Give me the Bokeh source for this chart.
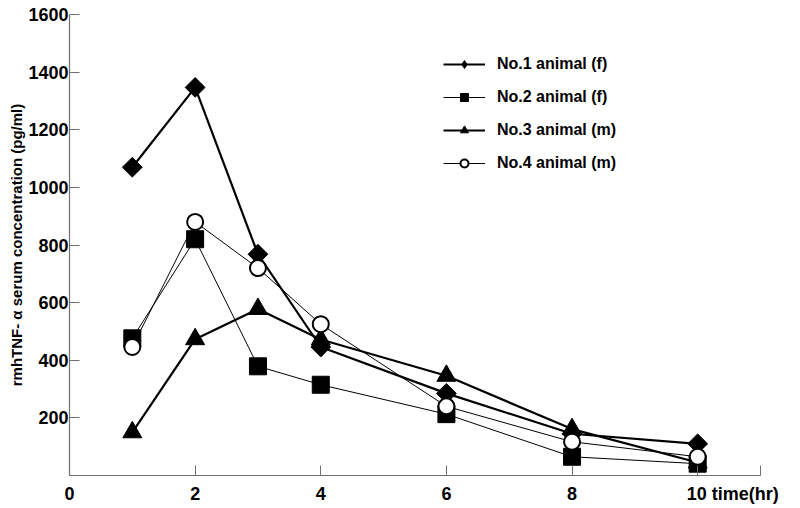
import numpy as np
from bokeh.plotting import figure
from bokeh.models import FixedTicker, Legend, LegendItem, Title
from bokeh.embed import file_html
from bokeh.resources import INLINE

# ---- data ----
time_hr = [1, 2, 3, 4, 6, 8, 10]
animal1_f = [1070, 1347, 768, 446, 285, 145, 110]
animal2_f = [476, 820, 379, 315, 213, 65, 41]
animal3_m = [150, 473, 578, 472, 346, 161, 45]
animal4_m = [446, 880, 720, 525, 240, 117, 65]
series_names = ["No.1 animal (f)", "No.2 animal (f)", "No.3 animal (m)", "No.4 animal (m)"]
x_ticks = [0, 2, 4, 6, 8, 10, 11]
x_tick_labels = ["0", "2", "4", "6", "8", "10", ""]
y_ticks = [200, 400, 600, 800, 1000, 1200, 1400, 1600]
y_title = "rmhTNF- α serum concentration (pg/ml)"
x_title = "time(hr)"

FONT = "Liberation Sans"
NBSP = "\u00a0"

p = figure(width=796, height=506, x_range=(0, 11), y_range=(0, 1600),
           output_backend="svg", toolbar_location=None,
           min_border_left=69, min_border_right=36, min_border_top=14, min_border_bottom=28)
p.outline_line_color = None
p.grid.visible = False
p.background_fill_color = "white"

for ax in (p.xaxis[0], p.yaxis[0]):
    ax.axis_line_color = "#707070"
    ax.axis_line_width = 1.2
    ax.major_tick_line_color = "#707070"
    ax.major_tick_in = 10
    ax.major_tick_out = 0
    ax.minor_tick_line_color = None
    ax.major_label_text_font = FONT
    ax.major_label_text_font_style = "bold"
    ax.major_label_text_font_size = "18px"
    ax.major_label_text_color = "black"

# the "time(hr)" caption sits right after the last labelled tick, as in the reference
overrides = {t: l for t, l in zip(x_ticks, x_tick_labels)}
overrides[10] = NBSP * 14 + "10 " + x_title
p.xaxis.ticker = FixedTicker(ticks=x_ticks)
p.xaxis.major_label_overrides = overrides
p.xaxis.major_label_standoff = 8
p.yaxis.ticker = FixedTicker(ticks=y_ticks)
p.yaxis.major_label_standoff = 1

data = [animal1_f, animal2_f, animal3_m, animal4_m]
line_w = [2.2, 1.0, 2.2, 1.0]
order = [2, 0, 1, 3]
lines = {}
for i in order:
    lines[i] = p.line(time_hr, data[i], line_color="black", line_width=line_w[i])

marks = {}
marks[2] = p.scatter(time_hr, data[2], marker="triangle", size=19, fill_color="black", line_color="black")
marks[0] = p.scatter(time_hr, data[0], marker="square", angle=np.pi / 4, size=14, fill_color="black", line_color="black")
marks[1] = p.scatter(time_hr, data[1], marker="square", size=17, fill_color="black", line_color="black")
marks[3] = p.scatter(time_hr, data[3], marker="circle", size=16, fill_color="white", line_color="black", line_width=2)
# legend-only diamond (legend glyphs ignore the marker angle)
legend_diamond = p.scatter([np.nan], [np.nan], marker="diamond", size=22, fill_color="black", line_color="black")

legend_marks = [legend_diamond, marks[1], marks[2], marks[3]]
items = [LegendItem(label=series_names[i], renderers=[lines[i], legend_marks[i]]) for i in range(4)]
legend = Legend(items=items, location=(374, 302), padding=0, margin=0, spacing=13,
                glyph_width=42, glyph_height=20, label_height=20, label_standoff=12,
                border_line_alpha=0, background_fill_alpha=0,
                label_text_font=FONT, label_text_font_style="bold", label_text_font_size="16px",
                label_text_color="black")
p.add_layout(legend)

p.add_layout(Title(text=y_title, align="center", offset=50, standoff=2,
                   text_font=FONT, text_font_style="bold", text_font_size="15px",
                   text_color="black"), "left")

open("out.html", "w").write(file_html(p, INLINE))
